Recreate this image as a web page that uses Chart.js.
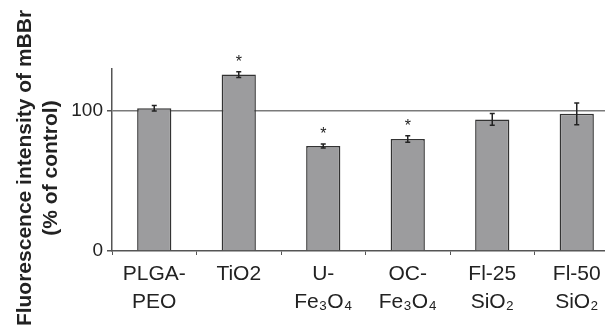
<!DOCTYPE html>
<html>
<head>
<meta charset="utf-8">
<script src="https://cdn.jsdelivr.net/npm/chart.js@4"></script>
<style>
  html, body { margin: 0; padding: 0; background: #fff; overflow: hidden; }
  #wrap { width: 620px; height: 331px; }
</style>
</head>
<body>
<div id="wrap"><canvas id="chart" width="620" height="331"></canvas></div>
<script>
// --- Data ---
const categories = [
  ['PLGA-', 'PEO'],
  ['TiO2'],
  ['U-', 'Fe₃O₄'],
  ['OC-', 'Fe₃O₄'],
  ['Fl-25', 'SiO₂'],
  ['Fl-50', 'SiO₂']
];
const intensity = [102, 126, 75, 80, 94, 98];
const errors = [2, 2, 1.5, 2.3, 4.2, 7.8];
const significant = [false, true, true, true, false, false];
const yTicks = [0, 100];

const FONT = '"Liberation Sans", Arial, Helvetica, sans-serif';

// --- Plugins ---
const errorBars = {
  id: 'errorBars',
  afterDatasetsDraw(chart) {
    const ctx = chart.ctx;
    const y = chart.scales.y;
    const meta = chart.getDatasetMeta(0);
    ctx.save();
    ctx.strokeStyle = '#222';
    ctx.lineWidth = 1.5;
    meta.data.forEach((bar, i) => {
      const top = y.getPixelForValue(intensity[i] + errors[i]);
      const bot = y.getPixelForValue(intensity[i] - errors[i]);
      ctx.beginPath();
      ctx.moveTo(bar.x, top); ctx.lineTo(bar.x, bot);
      ctx.moveTo(bar.x - 2.5, top); ctx.lineTo(bar.x + 2.5, top);
      ctx.moveTo(bar.x - 2.5, bot); ctx.lineTo(bar.x + 2.5, bot);
      ctx.stroke();
      if (significant[i]) {
        ctx.fillStyle = '#222';
        ctx.font = '16px ' + FONT;
        ctx.textAlign = 'center';
        ctx.textBaseline = 'alphabetic';
        ctx.fillText('*', bar.x, top - 5);
      }
    });
    ctx.restore();
  }
};

const yTitle = {
  id: 'yTitle',
  afterDraw(chart) {
    const ctx = chart.ctx;
    ctx.save();
    ctx.translate(31, 168);
    ctx.rotate(-Math.PI / 2);
    ctx.fillStyle = '#222';
    ctx.font = 'bold 21px ' + FONT;
    ctx.textAlign = 'center';
    ctx.textBaseline = 'alphabetic';
    ctx.fillText('Fluorescence intensity of mBBr', 0, 0);
    ctx.fillText('(% of control)', 0, 26);
    ctx.restore();
  }
};

// --- Chart ---
new Chart(document.getElementById('chart'), {
  type: 'bar',
  data: {
    labels: categories,
    datasets: [{
      data: intensity,
      backgroundColor: '#9c9c9e',
      borderColor: '#333',
      borderWidth: 1.5,
      barPercentage: 0.81,
      categoryPercentage: 0.5
    }]
  },
  options: {
    responsive: false,
    animation: false,
    layout: { padding: { top: 69, right: 1, bottom: 0, left: 0 } },
    plugins: {
      legend: { display: false },
      tooltip: { enabled: false }
    },
    scales: {
      x: {
        afterFit(scale) { scale.height = 80; },
        border: { color: '#555', width: 1.5 },
        grid: { drawOnChartArea: false, drawTicks: true, tickLength: 4, color: '#555' },
        ticks: {
          color: '#222',
          padding: 6,
          maxRotation: 0,
          autoSkip: false,
          font: { family: FONT, size: 21, lineHeight: 1.3 }
        }
      },
      y: {
        min: 0,
        max: 130,
        afterFit(scale) { scale.width = 112; },
        afterBuildTicks(scale) { scale.ticks = yTicks.map(v => ({ value: v })); },
        border: { color: '#555', width: 1.5 },
        grid: {
          color: ctx => ctx.tick && ctx.tick.value === 100 ? '#7a7a7a' : 'rgba(0,0,0,0)',
          lineWidth: 1.5,
          tickColor: '#555',
          tickLength: 5
        },
        ticks: {
          color: '#222',
          padding: 4,
          font: { family: FONT, size: 19 }
        }
      }
    }
  },
  plugins: [errorBars, yTitle]
});
</script>
</body>
</html>
